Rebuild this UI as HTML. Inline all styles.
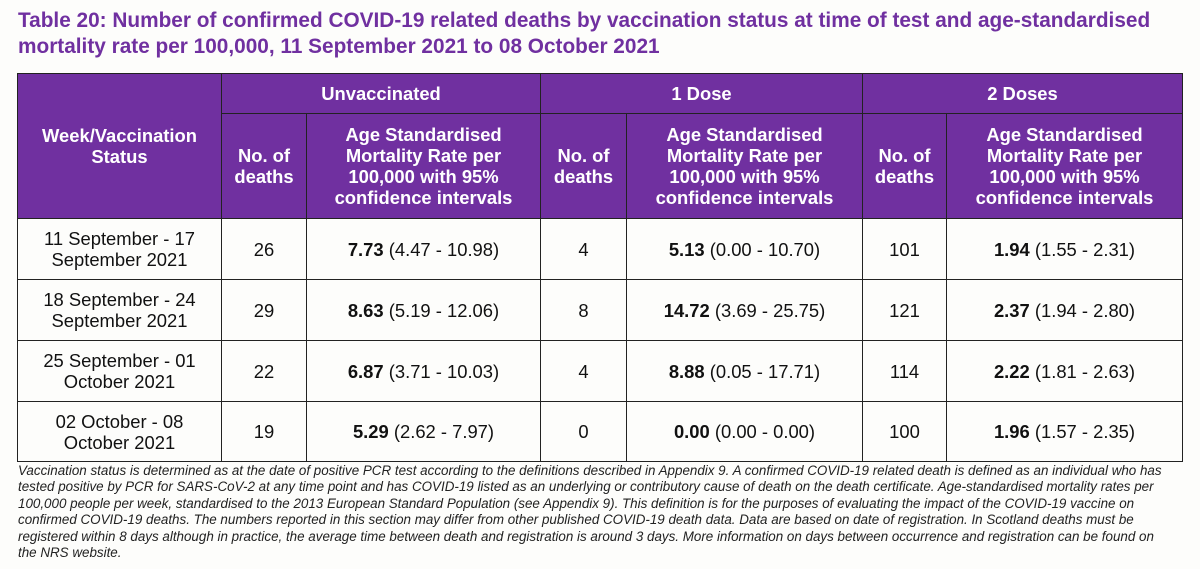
<!DOCTYPE html>
<html><head><meta charset="utf-8"><style>
body{margin:0;width:1200px;height:569px;background:#fdfdfb;font-family:"Liberation Sans",Arial,sans-serif;position:relative;overflow:hidden}
.t{position:absolute;left:18px;top:8px;color:#7030a0;font-weight:bold;font-size:20.8px;line-height:26px;white-space:nowrap}
table{position:absolute;left:17px;top:73px;border-collapse:collapse;table-layout:fixed}
td{border:1.5px solid #222;text-align:center;vertical-align:middle;font-size:18.4px;color:#111;padding:0;line-height:21px;white-space:nowrap}
.h{background:#7030a0;color:#fff;font-weight:bold}
.f{position:absolute;left:18px;top:463px;width:1175px;font-style:italic;font-size:13.4px;line-height:16.4px;color:#222;white-space:nowrap}
</style></head><body>
<div class="t">Table 20: Number of confirmed COVID-19 related deaths by vaccination status at time of test and age-standardised<br>mortality rate per 100,000, 11 September 2021 to 08 October 2021</div>
<table>
<colgroup><col style="width:204px"><col style="width:85px"><col style="width:234px"><col style="width:86px"><col style="width:236px"><col style="width:84px"><col style="width:236px"></colgroup>
<tr style="height:40px"><td class="h" rowspan="2">Week/Vaccination<br>Status</td><td class="h" colspan="2">Unvaccinated</td><td class="h" colspan="2">1 Dose</td><td class="h" colspan="2">2 Doses</td></tr>
<tr style="height:105px"><td class="h">No. of<br>deaths</td><td class="h">Age Standardised<br>Mortality Rate per<br>100,000 with 95%<br>confidence intervals</td><td class="h">No. of<br>deaths</td><td class="h">Age Standardised<br>Mortality Rate per<br>100,000 with 95%<br>confidence intervals</td><td class="h">No. of<br>deaths</td><td class="h">Age Standardised<br>Mortality Rate per<br>100,000 with 95%<br>confidence intervals</td></tr>
<tr style="height:61px"><td>11 September - 17<br>September 2021</td><td>26</td><td><b>7.73</b> (4.47 - 10.98)</td><td>4</td><td><b>5.13</b> (0.00 - 10.70)</td><td>101</td><td><b>1.94</b> (1.55 - 2.31)</td></tr>
<tr style="height:61px"><td>18 September - 24<br>September 2021</td><td>29</td><td><b>8.63</b> (5.19 - 12.06)</td><td>8</td><td><b>14.72</b> (3.69 - 25.75)</td><td>121</td><td><b>2.37</b> (1.94 - 2.80)</td></tr>
<tr style="height:61px"><td>25 September - 01<br>October 2021</td><td>22</td><td><b>6.87</b> (3.71 - 10.03)</td><td>4</td><td><b>8.88</b> (0.05 - 17.71)</td><td>114</td><td><b>2.22</b> (1.81 - 2.63)</td></tr>
<tr style="height:60px"><td>02 October - 08<br>October 2021</td><td>19</td><td><b>5.29</b> (2.62 - 7.97)</td><td>0</td><td><b>0.00</b> (0.00 - 0.00)</td><td>100</td><td><b>1.96</b> (1.57 - 2.35)</td></tr>
</table>
<div class="f">Vaccination status is determined as at the date of positive PCR test according to the definitions described in Appendix 9. A confirmed COVID-19 related death is defined as an individual who has<br>tested positive by PCR for SARS-CoV-2 at any time point and has COVID-19 listed as an underlying or contributory cause of death on the death certificate. Age-standardised mortality rates per<br>100,000 people per week, standardised to the 2013 European Standard Population (see Appendix 9). This definition is for the purposes of evaluating the impact of the COVID-19 vaccine on<br>confirmed COVID-19 deaths. The numbers reported in this section may differ from other published COVID-19 death data. Data are based on date of registration. In Scotland deaths must be<br>registered within 8 days although in practice, the average time between death and registration is around 3 days. More information on days between occurrence and registration can be found on<br>the NRS website.</div>
</body></html>
